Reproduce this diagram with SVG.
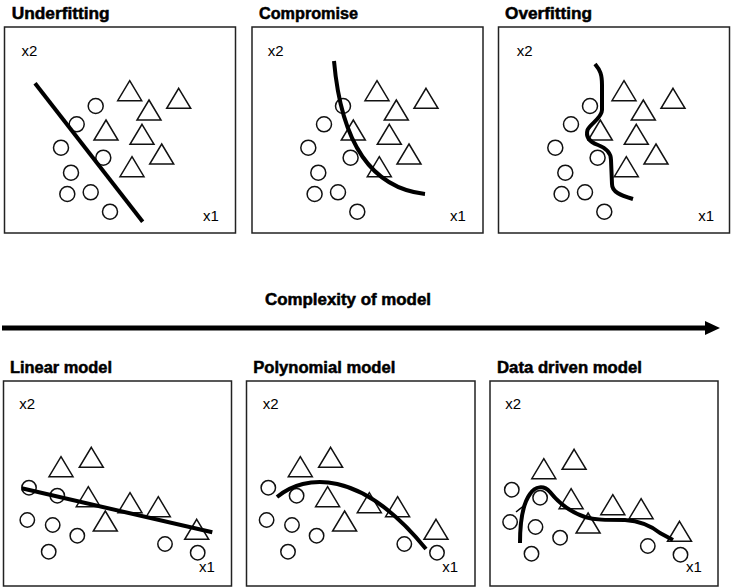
<svg xmlns="http://www.w3.org/2000/svg" xmlns:xlink="http://www.w3.org/1999/xlink" width="731" height="587" viewBox="0 0 731 587">
<style>
.bg{fill:#ffffff}
.box{fill:none;stroke:#222;stroke-width:1.5}
.shape{fill:none;stroke:#111;stroke-width:1.5}
.fit{fill:none;stroke:#000;stroke-width:4;stroke-linecap:butt;stroke-linejoin:round}
.thin{fill:none;stroke:#000;stroke-width:1.5}
.title{font-family:"Liberation Sans",Arial,sans-serif;font-weight:bold;font-size:16px;fill:#000;stroke:#000;stroke-width:0.5}
.axis{font-family:"Liberation Sans",Arial,sans-serif;font-size:15px;fill:#000}
.arrow{stroke:#000;stroke-width:5;fill:none}
</style>
<defs>
<path id="tri" class="shape" d="M0,0 L12,20 L-12,20 Z"/>
<marker id="arrowhead" markerWidth="15" markerHeight="14" refX="0" refY="7" orient="auto" markerUnits="userSpaceOnUse">
<path d="M0,0 L15,7 L0,14 Z" fill="#000"/>
</marker>
<g id="topdata">
<circle class="shape" cx="95.7" cy="106" r="7.5"/>
<circle class="shape" cx="76.7" cy="124.3" r="7.5"/>
<circle class="shape" cx="61" cy="147.7" r="7.5"/>
<circle class="shape" cx="103.3" cy="157.7" r="7.5"/>
<circle class="shape" cx="71" cy="172.7" r="7.5"/>
<circle class="shape" cx="67.3" cy="194" r="7.5"/>
<circle class="shape" cx="90.7" cy="192.3" r="7.5"/>
<circle class="shape" cx="110" cy="211.7" r="7.5"/>
<use xlink:href="#tri" href="#tri" x="129.7" y="80.7"/>
<use xlink:href="#tri" href="#tri" x="178.7" y="88.3"/>
<use xlink:href="#tri" href="#tri" x="149" y="100"/>
<use xlink:href="#tri" href="#tri" x="106" y="120"/>
<use xlink:href="#tri" href="#tri" x="142" y="124.3"/>
<use xlink:href="#tri" href="#tri" x="161.7" y="144"/>
<use xlink:href="#tri" href="#tri" x="132" y="156.7"/>
</g>
<g id="botdata">
<circle class="shape" cx="29" cy="487.7" r="7.2"/>
<circle class="shape" cx="57.3" cy="495.7" r="7.2"/>
<circle class="shape" cx="27.3" cy="520" r="7.2"/>
<circle class="shape" cx="52.7" cy="525" r="7.2"/>
<circle class="shape" cx="77.3" cy="535.7" r="7.2"/>
<circle class="shape" cx="48.7" cy="551.7" r="7.2"/>
<circle class="shape" cx="165" cy="544" r="7.2"/>
<circle class="shape" cx="197.7" cy="552.7" r="7.2"/>
<use xlink:href="#tri" href="#tri" x="61" y="456.7"/>
<use xlink:href="#tri" href="#tri" x="91.3" y="447.3"/>
<use xlink:href="#tri" href="#tri" x="88.3" y="486.7"/>
<use xlink:href="#tri" href="#tri" x="105.3" y="511"/>
<use xlink:href="#tri" href="#tri" x="130" y="492.7"/>
<use xlink:href="#tri" href="#tri" x="158.3" y="496.7"/>
<use xlink:href="#tri" href="#tri" x="196.7" y="519.3"/>
</g>
</defs>
<rect class="bg" x="0" y="0" width="731" height="587"/>

<g id="underfitting">
<text class="title" x="11.7" y="19" textLength="98" lengthAdjust="spacingAndGlyphs">Underfitting</text>
<rect class="box" x="4.5" y="27" width="231" height="206"/>
<text class="axis" x="21.5" y="56">x2</text>
<text class="axis" x="203" y="221">x1</text>
<use xlink:href="#topdata" href="#topdata"/>
<line class="fit" x1="35" y1="83.3" x2="142.7" y2="221.7"/>
</g>

<g id="compromise">
<text class="title" x="259" y="19" textLength="99" lengthAdjust="spacingAndGlyphs">Compromise</text>
<rect class="box" x="252" y="27" width="231" height="206"/>
<text class="axis" x="267.7" y="56">x2</text>
<text class="axis" x="450" y="221">x1</text>
<use xlink:href="#topdata" href="#topdata" x="247.3"/>
<path class="fit" d="M334,61 Q345,185 425,194" stroke-width="3.5"/>
</g>

<g id="overfitting">
<text class="title" x="505" y="19" textLength="87" lengthAdjust="spacingAndGlyphs">Overfitting</text>
<rect class="box" x="498.5" y="27" width="231" height="206"/>
<text class="axis" x="516.7" y="56">x2</text>
<text class="axis" x="698.3" y="221">x1</text>
<use xlink:href="#topdata" href="#topdata" x="494.3"/>
<path class="fit" d="M595,64 C600,70 602,74 602,85 L602,110 C602,118 590,124 587.5,130 C585.5,137 590,142 598,145 C606,148 611,152 611,160 L612,184 C612,192 620,195 633,199"/>
</g>

<g id="complexity">
<text class="title" x="265" y="305" textLength="166" lengthAdjust="spacingAndGlyphs">Complexity of model</text>
</g>

<g id="connectors">
<line class="arrow" x1="2" y1="328" x2="705" y2="328" marker-end="url(#arrowhead)"/>
</g>

<g id="linear-model">
<text class="title" x="10" y="372.7" textLength="102" lengthAdjust="spacingAndGlyphs">Linear model</text>
<rect class="box" x="3.5" y="381" width="228" height="205"/>
<text class="axis" x="19.3" y="409">x2</text>
<text class="axis" x="199" y="571.7">x1</text>
<use xlink:href="#botdata" href="#botdata"/>
<line class="fit" x1="21.7" y1="488.3" x2="212.3" y2="532.3"/>
</g>

<g id="polynomial-model">
<text class="title" x="253.3" y="372.7" textLength="142" lengthAdjust="spacingAndGlyphs">Polynomial model</text>
<rect class="box" x="246.5" y="381" width="228.5" height="205"/>
<text class="axis" x="262.7" y="409">x2</text>
<text class="axis" x="442.3" y="571.7">x1</text>
<use xlink:href="#botdata" href="#botdata" x="239.3"/>
<path class="fit" d="M277,497 C305,474 360,468 426,549" stroke-width="3.5"/>
</g>

<g id="data-driven-model">
<text class="title" x="497" y="372.7" textLength="145" lengthAdjust="spacingAndGlyphs">Data driven model</text>
<rect class="box" x="490" y="381" width="228" height="205"/>
<text class="axis" x="505.3" y="409">x2</text>
<text class="axis" x="686" y="571.7">x1</text>
<use xlink:href="#botdata" href="#botdata" x="482.8" y="2"/>
<line class="thin" x1="516" y1="512" x2="526" y2="504"/>
<path class="fit" d="M520,543 C520,525 522,505 530,494 C535,486 544,485 550,492 C558,502 570,512 585,517 C595,520 605,520 625,520 C640,521 650,525 660,533 L673,540"/>
</g>
</svg>
